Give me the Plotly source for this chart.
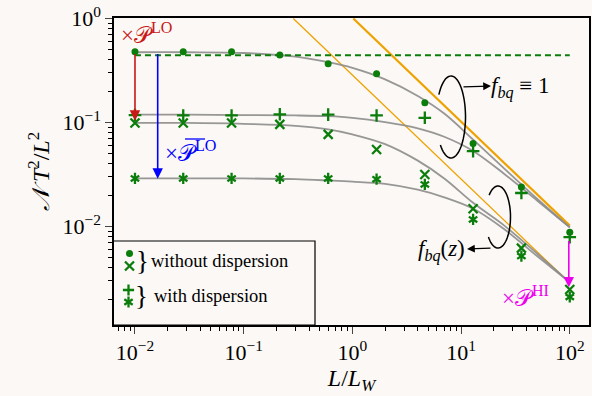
import numpy as np
import plotly.graph_objects as go

# ---------------- data ----------------
x_pts = [0.01, 0.0278, 0.0774, 0.215, 0.599, 1.67, 4.64, 12.9, 35.9, 100]
y_circle = [0.478, 0.478, 0.478, 0.446, 0.367, 0.294, 0.155, 0.063, 0.024, 0.0088]   # without dispersion, f_bq = 1
y_plus = [0.118, 0.117, 0.117, 0.120, 0.119, 0.117, 0.111, 0.053, 0.021, 0.0079]     # with dispersion, f_bq = 1
y_cross = [0.099, 0.099, 0.099, 0.096, 0.077, 0.055, 0.0316, 0.0148, 0.0062, 0.00248]  # without dispersion, f_bq(z)
y_star = [0.029, 0.029, 0.029, 0.029, 0.029, 0.0285, 0.0254, 0.0117, 0.0052, 0.0021]  # with dispersion, f_bq(z)

# grey fit curves
x_fit = [0.01, 0.03, 0.1, 0.3, 0.6, 1, 2, 4, 7, 13, 25, 50, 100]
fit1 = [0.474, 0.474, 0.466, 0.43, 0.38, 0.335, 0.26, 0.18, 0.122, 0.068, 0.036, 0.0185, 0.0098]
fit2 = [0.119, 0.119, 0.118, 0.117, 0.115, 0.111, 0.101, 0.088, 0.073, 0.053, 0.032, 0.0178, 0.0098]
fit3 = [0.099, 0.099, 0.097, 0.093, 0.086, 0.077, 0.062, 0.043, 0.029, 0.0168, 0.0102, 0.0055, 0.0029]
fit4 = [0.029, 0.029, 0.029, 0.0285, 0.0277, 0.027, 0.0257, 0.0226, 0.0191, 0.0148, 0.0094, 0.0052, 0.0029]

# green dashed plateau
x_dash = [0.01, 100]
y_dash = [0.444, 0.444]

# orange asymptotes
x_orA = [0.286, 100]
y_orA = [1.0, 0.00286]
x_orB = [1.02, 100]
y_orB = [1.0, 0.0102]

x_ticks = [1e-2, 1e-1, 1, 10, 100]
x_ticktext = ["10<sup>−2</sup>", "10<sup>−1</sup>", "10<sup>0</sup>", "10<sup>1</sup>", "10<sup>2</sup>"]
y_ticks = [1e-2, 1e-1, 1]
y_ticktext = ["10<sup>−2</sup>", "10<sup>−1</sup>", "10<sup>0</sup>"]

# ---------------- style ----------------
BG = "#fbf8f5"
GREEN = "#0b7d0b"
GREY = "rgba(140,140,140,0.9)"
ORANGE = "#eea200"
FONT = "Liberation Serif"

# plot area in pixels
L, R, T, B = 114, 589, 18, 325


def px(x):
    return (x - L) / (R - L)


def py(y):
    return (B - y) / (B - T)


fig = go.Figure()

# orange lines
fig.add_trace(go.Scatter(x=x_orA, y=y_orA, mode="lines", line=dict(color=ORANGE, width=1.3), hoverinfo="skip"))
fig.add_trace(go.Scatter(x=x_orB, y=y_orB, mode="lines", line=dict(color=ORANGE, width=2.2), hoverinfo="skip"))

# grey fit curves
for f in (fit1, fit2, fit3, fit4):
    fig.add_trace(go.Scatter(x=x_fit, y=f, mode="lines", line=dict(color=GREY, width=1.8, shape="spline"),
                             hoverinfo="skip"))

# dashed line
fig.add_trace(go.Scatter(x=x_dash, y=y_dash, mode="lines", line=dict(color=GREEN, width=2, dash="6px,4px"),
                         hoverinfo="skip"))


def mk(symbol, size, width=0):
    return dict(symbol=symbol, size=size, color=GREEN, line=dict(color=GREEN, width=width))


# markers
fig.add_trace(go.Scatter(x=x_pts, y=y_circle, mode="markers", marker=mk("circle", 7)))
fig.add_trace(go.Scatter(x=x_pts, y=y_plus, mode="markers", marker=mk("cross-thin-open", 9, 2.3)))
fig.add_trace(go.Scatter(x=x_pts, y=y_cross, mode="markers", marker=mk("x-thin-open", 9, 2.3)))
for sym in ("y-up-open", "y-down-open"):
    fig.add_trace(go.Scatter(x=x_pts, y=y_star, mode="markers", marker=mk(sym, 7, 2.3)))

# ---------------- legend (overlay axes in paper-like coords) ----------------
fig.add_trace(go.Scatter(x=[px(129.5)], y=[py(253.5)], mode="markers", xaxis="x2", yaxis="y2",
                         marker=mk("circle", 7)))
fig.add_trace(go.Scatter(x=[px(129.5)], y=[py(266)], mode="markers", xaxis="x2", yaxis="y2",
                         marker=mk("x-thin-open", 9, 2.3)))
fig.add_trace(go.Scatter(x=[px(128.5)], y=[py(290)], mode="markers", xaxis="x2", yaxis="y2",
                         marker=mk("cross-thin-open", 8, 2.3)))
for sym in ("y-up-open", "y-down-open"):
    fig.add_trace(go.Scatter(x=[px(128.5)], y=[py(302)], mode="markers", xaxis="x2", yaxis="y2",
                             marker=mk(sym, 7, 2.3)))

shapes = []
# legend box
shapes.append(dict(type="rect", xref="paper", yref="paper", x0=px(113), x1=px(315), y0=py(325), y1=py(241),
                   line=dict(color="black", width=1.2), fillcolor=BG, layer="below"))


def ellipse_path(cx, cy, rx, ry, a0, a1, n=60):
    t = np.radians(np.linspace(a0, a1, n))
    xs = cx + rx * np.cos(t)
    ys = cy + ry * np.sin(t)
    pts = [f"{px(a):.4f},{py(b):.4f}" for a, b in zip(xs, ys)]
    return "M " + " L ".join(pts)


shapes.append(dict(type="path", xref="paper", yref="paper", path=ellipse_path(451, 117, 14.5, 41, -147, 137),
                   line=dict(color="black", width=1.5)))
shapes.append(dict(type="path", xref="paper", yref="paper", path=ellipse_path(498, 217, 12.5, 31, -135, 140),
                   line=dict(color="black", width=1.5)))
# overline on blue P
shapes.append(dict(type="line", xref="paper", yref="paper", x0=px(185), x1=px(205), y0=py(139), y1=py(139),
                   line=dict(color="blue", width=1.3)))

annotations = []


def arrow(x, y_tip, y_tail, color):
    annotations.append(dict(x=np.log10(x), y=np.log10(y_tip), ax=np.log10(x), ay=np.log10(y_tail),
                            xref="x", yref="y", axref="x", ayref="y", text="", showarrow=True,
                            arrowhead=2, arrowsize=1.3, arrowwidth=1.6, arrowcolor=color))


arrow(0.01, 0.104, 0.47, "#c81818")
arrow(10 ** -1.791, 0.0288, 0.47, "blue")
arrow(98, 0.0026, 0.0075, "#ee00ee")

# black arrows (pixel offsets for the tails)
annotations.append(dict(x=px(491), y=py(86), ax=-29, ay=1, xref="paper", yref="paper",
                        axref="pixel", ayref="pixel", text="", showarrow=True, arrowhead=2, arrowsize=1.2,
                        arrowwidth=1.3, arrowcolor="black"))
annotations.append(dict(x=px(467), y=py(249), ax=25, ay=-1, xref="paper", yref="paper",
                        axref="pixel", ayref="pixel", text="", showarrow=True, arrowhead=2, arrowsize=1.2,
                        arrowwidth=1.3, arrowcolor="black"))


def label(x, y, text, color="black", size=17, xanchor="left"):
    annotations.append(dict(x=px(x), y=py(y), xref="paper", yref="paper", text=text, showarrow=False,
                            xanchor=xanchor, yanchor="middle", font=dict(family=FONT, size=size, color=color)))


label(119, 33, "×𝒫<sup>LO</sup>", "#c81818", 23)
label(163, 151, "×𝒫<sup>LO</sup>", "blue", 23)
label(500, 296, "×𝒫<sup>HI</sup>", "#ee00ee", 23)
label(489, 87, "<i>f</i><sub><i>bq</i></sub> ≡ 1", "black", 23)
label(467, 250, "<i>f</i><sub><i>bq</i></sub>(<i>z</i>)", "black", 23, xanchor="right")
# legend braces and texts
label(134, 261, "}", "black", 27)
label(149, 261, "without dispersion", "black", 18.5)
label(133, 296, "}", "black", 27)
label(152, 296, "with dispersion", "black", 18.5)

fig.update_layout(
    width=592, height=396,
    margin=dict(l=L, r=592 - R, t=T, b=396 - B, autoexpand=False),
    paper_bgcolor=BG, plot_bgcolor=BG,
    showlegend=False,
    shapes=shapes, annotations=annotations,
    font=dict(family=FONT, size=18, color="black"),
    xaxis=dict(type="log", range=[-2.193, 2.177], tickvals=x_ticks, ticktext=x_ticktext, automargin=False,
               ticks="outside", ticklen=7, tickwidth=1.2, showline=True, linecolor="black", linewidth=1.5,
               mirror=True, showgrid=False, zeroline=False,
               minor=dict(ticks="outside", ticklen=4, tickwidth=1, tickcolor="black",
                          tickvals=[m * 10 ** e for e in range(-3, 3) for m in range(2, 10)], showgrid=False),
               title=dict(text="<i>L</i>/<i>L</i><sub><i>W</i></sub>", font=dict(size=24), standoff=2),
               tickfont=dict(size=22)),
    yaxis=dict(type="log", range=[-2.947, 0.005], tickvals=y_ticks, ticktext=y_ticktext, automargin=False,
               ticks="outside", ticklen=7, tickwidth=1.2, showline=True, linecolor="black", linewidth=1.5,
               mirror=True, showgrid=False, zeroline=False,
               minor=dict(ticks="outside", ticklen=4, tickwidth=1, tickcolor="black",
                          tickvals=[m * 10 ** e for e in range(-3, 1) for m in range(2, 10)], showgrid=False),
               title=dict(text="<i>𝒩 T</i><sup>2</sup>/<i>L</i><sup>2</sup>", font=dict(size=24), standoff=6),
               tickfont=dict(size=22)),
    xaxis2=dict(overlaying="x", range=[0, 1], visible=False, domain=[0, 1]),
    yaxis2=dict(overlaying="y", range=[0, 1], visible=False, domain=[0, 1]),
)

fig.write_html("out.html", config={"displayModeBar": False},
               post_script="document.body.style.margin='0px';document.body.style.overflow='hidden';"
                           "document.body.style.background='" + BG + "';")
